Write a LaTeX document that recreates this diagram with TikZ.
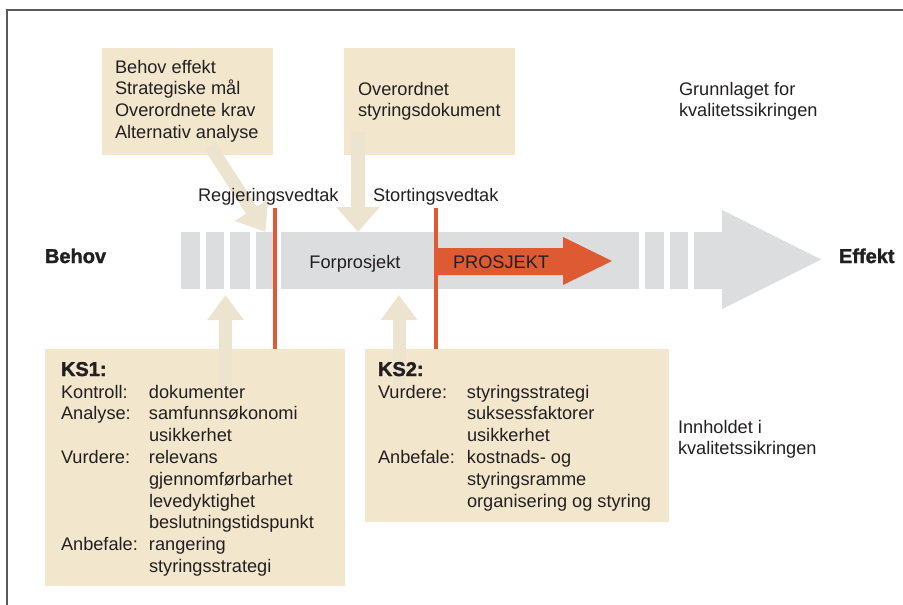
\documentclass[tikz,border=0pt]{standalone}
\usepackage{fontspec}
\setmainfont{Liberation Sans}[BoldFeatures={FakeBold=1.6}]
\usetikzlibrary{arrows.meta}
\definecolor{ink}{HTML}{231F20}
\definecolor{barGray}{HTML}{DCDDDF}
\definecolor{boxBeige}{HTML}{F2E7CC}
\definecolor{arrowBeige}{HTML}{ECE4CF}
\definecolor{signalRed}{HTML}{DE5A32}
\definecolor{frameGray}{HTML}{5A5A5A}

\begin{document}
\begin{tikzpicture}[x=1pt,y=-1pt,
  every node/.style={inner sep=0pt, outer sep=0pt, text=ink},
  txt/.style={anchor=base west, font=\fontsize{18.2}{21.8}\selectfont},
  ctxt/.style={anchor=base, font=\fontsize{18.2}{21.8}\selectfont},
  heavy/.style={anchor=base west, font=\fontsize{20}{24}\selectfont\bfseries},
  infobox/.style={fill=boxBeige, anchor=north west},
  seg/.style={fill=barGray, anchor=north west, minimum height=57pt},
  flow/.style={draw=arrowBeige, line width=13pt, -{Triangle[width=36pt,length=25pt]}},
  milestone/.style={draw=signalRed, line width=3.5pt}
]
\useasboundingbox (0,0) rectangle (903,605);

% frame
\draw[frameGray, line width=1.2pt] (903,10) -- (7,10) -- (7,605);

% beige information boxes
\node[infobox, minimum width=171pt, minimum height=107pt] (basis1) at (102,48) {};
\node[infobox, minimum width=171pt, minimum height=107pt] (basis2) at (344,48) {};
\node[infobox, minimum width=300pt, minimum height=237pt] (ks1) at (45,349) {};
\node[infobox, minimum width=304pt, minimum height=173pt] (ks2) at (365,349) {};

% process bar
\node[seg, minimum width=19pt] (s1) at (181,232) {};
\node[seg, minimum width=18pt] (s2) at (206,232) {};
\node[seg, minimum width=20pt] (s3) at (230,232) {};
\node[seg, minimum width=19pt] (s4) at (256,232) {};
\node[seg, minimum width=358pt] (s5) at (281,232) {};
\node[seg, minimum width=19pt] (s6) at (645,232) {};
\node[seg, minimum width=18pt] (s7) at (670,232) {};
\fill[barGray] (694,232) -- (722,232) -- (722,210) -- (821,259.5)
  -- (722,309) -- (722,289) -- (694,289) -- cycle;

% beige flow arrows
\coordinate (d1) at (210,146);
\coordinate (d2) at (358,132);
\coordinate (u1) at (225.5,387);
\coordinate (u2) at (399,387);
\draw[flow, -{Triangle[width=38pt,length=26pt]}] (d1) -- (s4.north);
\draw[flow, line width=14pt, -{Triangle[width=42pt,length=25pt]}] (d2) -- (d2 |- s5.north);
\draw[flow, -{Triangle[width=35pt,length=25pt]}] (u1) -- (225.5,295);
\draw[flow, -{Triangle[width=35pt,length=25pt]}] (u2) -- (399,295);

% project arrow
\coordinate (stort) at (436,208);
\coordinate (regj) at (275,208);
\fill[signalRed] (437,248) -- (563,248) -- (563,237) -- (612,261)
  -- (563,285) -- (563,275) -- (437,275) -- cycle;

% decision lines
\draw[milestone] (regj) -- (regj |- ks1.north);
\draw[milestone] (stort) -- (stort |- ks2.north);

% texts
\node[txt] (t1) at (115,73) {\begin{tabular}[t]{@{}l@{}}Behov effekt\\Strategiske mål\\Overordnete krav\\Alternativ analyse\end{tabular}};
\node[txt] (t2) at (358,95) {\begin{tabular}[t]{@{}l@{}}Overordnet\\styringsdokument\end{tabular}};
\node[txt] (t3) at (679,95) {\begin{tabular}[t]{@{}l@{}}Grunnlaget for\\kvalitetssikringen\end{tabular}};
\node[txt] (t4) at (678,433) {\begin{tabular}[t]{@{}l@{}}Innholdet i\\kvalitetssikringen\end{tabular}};
\node[txt] (rv) at (198,201) {Regjeringsvedtak};
\node[txt] (sv) at (373,201) {Stortingsvedtak};
\node[ctxt] (fp) at (355,268) {Forprosjekt};
\node[txt] (pr) at (453,268) {PROSJEKT};
\node[heavy] (behov) at (45,263) {Behov};
\node[heavy] (effekt) at (839,263) {Effekt};

\node[heavy] (ks1h) at (61,376) {KS1:};
\node[txt] (ks1t) at (61,398) {\begin{tabular}[t]{@{}p{88pt}@{}l@{}}
Kontroll: & dokumenter\\
Analyse: & samfunnsøkonomi\\
 & usikkerhet\\
Vurdere: & relevans\\
 & gjennomførbarhet\\
 & levedyktighet\\
 & beslutningstidspunkt\\
Anbefale: & rangering\\
 & styringsstrategi
\end{tabular}};

\node[heavy] (ks2h) at (378,376) {KS2:};
\node[txt] (ks2t) at (378,398) {\begin{tabular}[t]{@{}p{89pt}@{}l@{}}
Vurdere: & styringsstrategi\\
 & suksessfaktorer\\
 & usikkerhet\\
Anbefale: & kostnads- og\\
 & styringsramme\\
 & organisering og styring
\end{tabular}};
\end{tikzpicture}
\end{document}
